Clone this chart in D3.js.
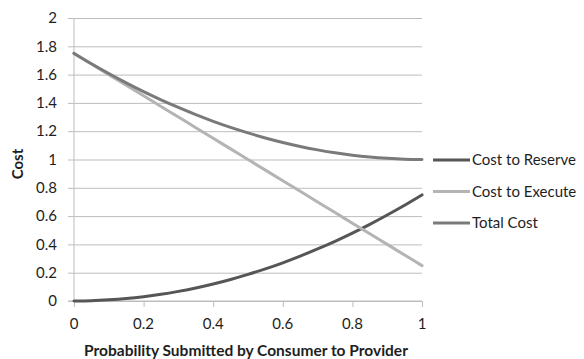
<!DOCTYPE html>
<html>
<head>
<meta charset="utf-8">
<script src="https://cdn.jsdelivr.net/npm/d3@7"></script>
<style>
  html, body { margin: 0; padding: 0; background: #fff; }
  svg { display: block; font-family: Lato, "Open Sans", sans-serif; }
</style>
</head>
<body>
<svg id="chart" width="584" height="359"></svg>
<script>
// Probability that a request is submitted by the consumer to the provider
const probability = [0, 0.05, 0.1, 0.15, 0.2, 0.25, 0.3, 0.35, 0.4, 0.45, 0.5,
                     0.55, 0.6, 0.65, 0.7, 0.75, 0.8, 0.85, 0.9, 0.95, 1];
const costToReserve = [0, 0.002, 0.008, 0.017, 0.03, 0.047, 0.068, 0.092, 0.12, 0.152, 0.188,
                       0.227, 0.27, 0.317, 0.368, 0.422, 0.48, 0.542, 0.608, 0.677, 0.75];
const costToExecute = [1.75, 1.675, 1.6, 1.525, 1.45, 1.375, 1.3, 1.225, 1.15, 1.075, 1.0,
                       0.925, 0.85, 0.775, 0.7, 0.625, 0.55, 0.475, 0.4, 0.325, 0.25];
const totalCost = [1.75, 1.677, 1.608, 1.542, 1.48, 1.422, 1.368, 1.317, 1.27, 1.227, 1.188,
                   1.152, 1.12, 1.092, 1.068, 1.047, 1.03, 1.017, 1.008, 1.002, 1.0];

const seriesNames = ["Cost to Reserve", "Cost to Execute", "Total Cost"];
const seriesColors = ["#565656", "#b4b4b4", "#7a7a7a"];
const xTicks = [0, 0.2, 0.4, 0.6, 0.8, 1];
const yTicks = [0, 0.2, 0.4, 0.6, 0.8, 1, 1.2, 1.4, 1.6, 1.8, 2];

const series = [costToReserve, costToExecute, totalCost].map((vals, i) => ({
  name: seriesNames[i],
  color: seriesColors[i],
  points: probability.map((p, j) => [p, vals[j]])
}));

const svg = d3.select("#chart");
const plotLeft = 74, plotRight = 422, plotTop = 18, plotBottom = 301;

const x = d3.scaleLinear().domain([0, 1]).range([plotLeft, plotRight]);
const y = d3.scaleLinear().domain([0, 2]).range([plotBottom, plotTop]);

const gridColor = "#bdbdbd";
const textColor = "#1e1e1e";

// horizontal gridlines with short ticks to the left of the value axis
svg.append("g")
  .attr("transform", `translate(${plotLeft},0)`)
  .call(d3.axisLeft(y).tickValues(yTicks).tickSize(-(plotRight - plotLeft)).tickFormat(""))
  .call(g => g.select(".domain").remove())
  .call(g => g.selectAll("line").attr("stroke", gridColor).attr("x1", -6));

// value axis line
svg.append("line")
  .attr("x1", plotLeft).attr("x2", plotLeft).attr("y1", plotTop).attr("y2", plotBottom)
  .attr("stroke", gridColor);

// y tick labels
svg.append("g")
  .selectAll("text")
  .data(yTicks)
  .join("text")
  .attr("x", 57)
  .attr("y", d => y(d))
  .attr("dy", "0.35em")
  .attr("text-anchor", "end")
  .attr("font-size", 15)
  .attr("fill", textColor)
  .text(d => d3.format("")(d));

// category axis with ticks below
svg.append("g")
  .attr("transform", `translate(0,${plotBottom})`)
  .call(d3.axisBottom(x).tickValues(xTicks).tickSize(6).tickFormat(""))
  .call(g => g.select(".domain").attr("stroke", gridColor).attr("d", `M${plotLeft - 6},0H${plotRight}`))
  .call(g => g.selectAll("line").attr("stroke", gridColor));

svg.append("g")
  .selectAll("text")
  .data(xTicks)
  .join("text")
  .attr("x", d => x(d))
  .attr("y", 324)
  .attr("dy", "0.35em")
  .attr("text-anchor", "middle")
  .attr("font-size", 15)
  .attr("fill", textColor)
  .text(d => d3.format("")(d));

// axis titles
svg.append("text")
  .attr("x", 246)
  .attr("y", 351)
  .attr("dy", "0.35em")
  .attr("text-anchor", "middle")
  .attr("font-size", 15.5)
  .attr("font-weight", "bold")
  .attr("fill", textColor)
  .text("Probability Submitted by Consumer to Provider");

svg.append("text")
  .attr("transform", "translate(18,164) rotate(-90)")
  .attr("dy", "0.35em")
  .attr("text-anchor", "middle")
  .attr("font-size", 15)
  .attr("font-weight", "bold")
  .attr("fill", textColor)
  .text("Cost");

// series lines
const line = d3.line()
  .x(d => x(d[0]))
  .y(d => y(d[1]))
  .curve(d3.curveMonotoneX);

svg.append("g")
  .selectAll("path")
  .data(series)
  .join("path")
  .attr("d", d => line(d.points))
  .attr("fill", "none")
  .attr("stroke", d => d.color)
  .attr("stroke-width", 3)
  .attr("stroke-linecap", "round");

// legend
const legend = svg.append("g")
  .selectAll("g")
  .data(series)
  .join("g")
  .attr("transform", (d, i) => `translate(433,${160 + i * 31.5})`);

legend.append("line")
  .attr("x1", 0).attr("x2", 37)
  .attr("stroke", d => d.color)
  .attr("stroke-width", 3);

legend.append("text")
  .attr("x", 39)
  .attr("dy", "0.35em")
  .attr("font-size", 15)
  .attr("fill", textColor)
  .text(d => d.name);
</script>
</body>
</html>
